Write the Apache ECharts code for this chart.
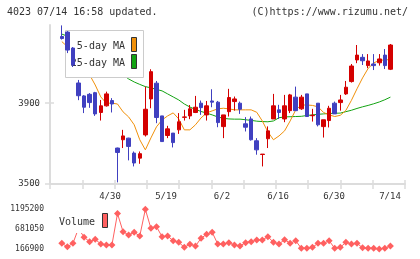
<!DOCTYPE html>
<html><head><meta charset="utf-8">
<script src="https://cdn.jsdelivr.net/npm/echarts@6/dist/echarts.min.js"></script>
<style>html,body{margin:0;padding:0;background:#fff}#c{width:420px;height:259px}</style>
</head><body><div id="c"></div>
<script>
const opens  = [4230,4252,4173,4000,3936,3944,3952,3854,3887,3913,3678,3719,3727,3653,3628,3743,3921,3999,3837,3740,3752,3768,3830,3837,3854,3900,3842,3911,3905,3784,3858,3908,3900,3798,3822,3714,3646,3724,3822,3867,3822,3863,3930,3872,3946,3838,3900,3784,3814,3900,3903,3946,4007,4114,4127,4086,4094,4100,4138,4068];
const closes = [4220,4163,4089,3937,3880,3903,3847,3887,3946,3896,3656,3738,3686,3604,3650,3870,4056,3829,3710,3773,3705,3808,3832,3872,3880,3878,3887,3905,3804,3842,3928,3921,3870,3781,3719,3669,3648,3763,3887,3854,3887,3941,3863,3930,3834,3840,3793,3818,3875,3847,3916,3979,4084,4138,4110,4109,4086,4119,4086,4188];
const lows   = [4215,4148,4079,3915,3851,3877,3837,3814,3883,3854,3508,3678,3617,3587,3600,3735,3875,3801,3710,3727,3681,3748,3814,3821,3851,3842,3814,3880,3781,3727,3834,3863,3847,3760,3715,3645,3587,3678,3822,3822,3806,3851,3863,3867,3834,3809,3785,3730,3780,3847,3863,3941,4002,4098,4089,4073,4064,4086,4069,4064];
const highs  = [4285,4257,4178,4015,3940,3950,3956,3916,3957,3925,3680,3768,3729,3661,3661,3982,4068,4010,3837,3788,3752,3851,3867,3891,3936,3913,3911,3969,3911,3842,3971,3933,3908,3831,3834,3727,3648,3785,3946,3892,3941,3946,3982,3941,3946,3872,3900,3818,3887,3908,3941,4010,4094,4188,4143,4143,4143,4143,4168,4193];
const ma5    = [4205,4180,4140,4095,4060,4040,3990,3931,3900,3900,3896,3857,3832,3793,3719,3669,3728,3783,3817,3837,3852,3822,3768,3768,3793,3827,3852,3862,3872,3875,3872,3867,3867,3867,3867,3855,3812,3758,3719,3738,3763,3812,3867,3891,3891,3889,3882,3854,3842,3834,3840,3864,3914,3971,4025,4072,4099,4112,4114,4116];
const ma25   = [4242,4232,4222,4205,4185,4165,4145,4120,4100,4080,4060,4040,4020,4005,3993,3982,3976,3968,3961,3946,3931,3916,3896,3881,3869,3859,3851,3842,3832,3825,3822,3821,3821,3818,3815,3811,3809,3808,3812,3828,3832,3833,3834,3835,3839,3842,3845,3847,3849,3850,3851,3858,3865,3874,3882,3889,3897,3906,3917,3930];
const volumes= [314000,226000,314000,700000,470000,356000,418000,296000,270000,270000,1085000,615000,530000,600000,504000,1195200,703000,745000,486000,504000,382000,340000,211000,289000,245000,444000,548000,600000,296000,296000,330000,270000,245000,330000,356000,400000,400000,486000,340000,296000,409000,314000,382000,185000,185000,211000,314000,314000,382000,185000,211000,340000,296000,314000,200000,185000,185000,166900,185000,245000];
const dateLabels = ['4/30','5/19','6/2','6/16','6/30','7/14'];
const priceTicks = [3500,3900];
const volTicks = [166900,681050,1195200];

const FONT = '"DejaVu Sans Mono", monospace';
const XMIN = -2.119, XMAX = 61.62;
const candleData = opens.map((o,i)=>[i,o,closes[i],lows[i],highs[i]]);
const ma5Data = ma5.map((v,i)=>[i,v]);
const ma25Data = ma25.map((v,i)=>[i,v]);
const volData = volumes.map((v,i)=>[i,v]);
const AX = '#dcdcdc';
const plain = (v)=>String(v);

const chart = echarts.init(document.getElementById('c'), null, {renderer:'canvas'});
chart.setOption({
  animation:false,
  grid:[
    {left:50, top:25, width:355, height:159},
    {left:50, top:209.3, width:355, height:39.7}
  ],
  xAxis:[
    {gridIndex:0,type:'value',position:'bottom',min:XMIN,max:XMAX,show:false},
    {gridIndex:0,type:'value',position:'bottom',min:0,max:11,interval:1,
     axisLine:{show:true,onZero:false,lineStyle:{color:AX,width:2}},
     axisTick:{show:true,length:5,lineStyle:{color:AX,width:1.5}},
     axisLabel:{show:false},splitLine:{show:false}},
    {gridIndex:0,type:'value',position:'bottom',min:0,max:11,interval:1,
     axisLine:{show:false,onZero:false},
     axisTick:{show:true,inside:true,length:4,lineStyle:{color:AX,width:1.5}},
     axisLabel:{show:false},splitLine:{show:false}},
    {gridIndex:0,type:'value',position:'bottom',min:-1.0714,max:5.2679,
     axisLine:{show:false,onZero:false},axisTick:{show:false},splitLine:{show:false},
     axisLabel:{show:true,customValues:[0,1,2,3,4,5],margin:8,
       formatter:(v)=>dateLabels[Math.round(v)],color:'#333',fontFamily:FONT,fontSize:9}},
    {gridIndex:1,type:'value',position:'bottom',min:XMIN,max:XMAX,show:false}
  ],
  yAxis:[
    {gridIndex:0,type:'value',position:'left',min:3500,max:4287,
     axisLine:{show:true,onZero:false,lineStyle:{color:AX,width:2}},
     axisTick:{show:true,length:5,customValues:priceTicks,lineStyle:{color:AX,width:1.5}},
     axisLabel:{show:true,customValues:priceTicks,formatter:plain,margin:10,color:'#333',fontFamily:FONT,fontSize:9},
     splitLine:{show:false}},
    {gridIndex:0,type:'value',position:'left',min:3500,max:4287,
     axisLine:{show:false,onZero:false},
     axisTick:{show:true,inside:true,length:4,customValues:priceTicks,lineStyle:{color:AX,width:1.5}},
     axisLabel:{show:false},splitLine:{show:false}},
    {gridIndex:1,type:'value',position:'left',min:166900,max:1195200,
     axisLine:{show:false,onZero:false},axisTick:{show:false},splitLine:{show:false},
     axisLabel:{show:true,customValues:volTicks,formatter:plain,margin:6,color:'#333',fontFamily:FONT,fontSize:8}}
  ],
  series:[
    {type:'line',xAxisIndex:0,yAxisIndex:0,data:ma25Data,showSymbol:false,z:2,
     lineStyle:{color:'#12a312',width:1}},
    {type:'line',xAxisIndex:0,yAxisIndex:0,data:ma5Data,showSymbol:false,z:2,
     lineStyle:{color:'#f0900a',width:1}},
    {type:'candlestick',xAxisIndex:0,yAxisIndex:0,data:candleData,z:10,
     encode:{x:0,y:[1,2,3,4]},barWidth:4,
     itemStyle:{color:'#d40000',color0:'#4040c0',borderColor:'#d40000',borderColor0:'#4040c0',borderWidth:1}},
    {type:'line',xAxisIndex:4,yAxisIndex:2,data:volData,z:2,
     symbol:'diamond',symbolSize:7,showSymbol:true,
     itemStyle:{color:'#ff6060'},lineStyle:{color:'#ff6060',width:1}}
  ],
  graphic:[
    {type:'text',left:7,top:7,z:20,style:{text:'4023 07/14 16:58 updated.',font:'10px '+FONT,fill:'#333'}},
    {type:'text',right:12,top:7,z:20,style:{text:'(C)https://www.rizumu.net/',font:'10px '+FONT,fill:'#333'}},
    {type:'rect',z:5,shape:{x:65.5,y:30.5,width:78,height:47},style:{fill:'#fff',stroke:'#cccccc',lineWidth:1}},
    {type:'text',z:6,x:125,y:46,style:{text:'5-day MA',font:'10px '+FONT,fill:'#333',textAlign:'right',textVerticalAlign:'middle'}},
    {type:'text',z:6,x:125,y:63,style:{text:'25-day MA',font:'10px '+FONT,fill:'#333',textAlign:'right',textVerticalAlign:'middle'}},
    {type:'rect',z:6,shape:{x:131.5,y:37.5,width:5,height:14},style:{fill:'#f0900a',stroke:'#333',lineWidth:1}},
    {type:'rect',z:6,shape:{x:131.5,y:54.5,width:5,height:14},style:{fill:'#12a312',stroke:'#333',lineWidth:1}},
    {type:'rect',z:5,shape:{x:56,y:205,width:56,height:28},style:{fill:'#fff'}},
    {type:'text',z:6,x:59,y:222,style:{text:'Volume',font:'10px '+FONT,fill:'#333',textAlign:'left',textVerticalAlign:'middle'}},
    {type:'rect',z:6,shape:{x:102.5,y:213.5,width:5,height:14},style:{fill:'#ff6060',stroke:'#333',lineWidth:1}}
  ]
});
</script>
</body></html>
